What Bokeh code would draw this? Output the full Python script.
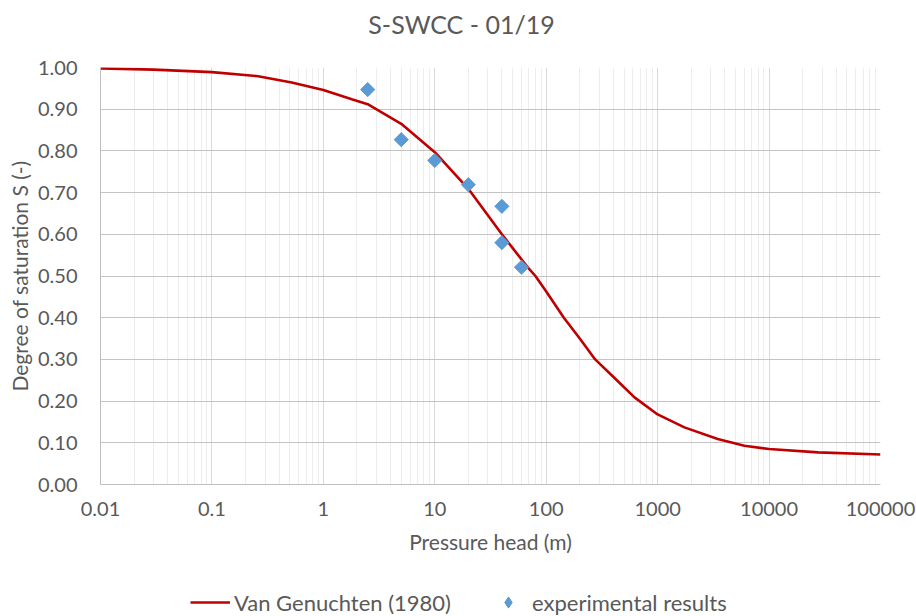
import numpy as np
from bokeh.plotting import figure
from bokeh.layouts import column
from bokeh.models import (FixedTicker, Legend, LegendItem, PrintfTickFormatter, Label)
from bokeh.embed import file_html
from bokeh.resources import INLINE

# ---- data ----
curve_x = [0.01, 0.03, 0.1, 0.26, 0.52, 1, 1.8, 2.5, 5, 10, 20, 40, 68.6, 80, 100,
           144, 200, 275, 408, 620, 1000, 1740, 3460, 6000, 10000, 27500, 100000]
curve_s = [0.998, 0.995, 0.989, 0.979, 0.964, 0.946, 0.924, 0.912, 0.865, 0.797,
           0.709, 0.600, 0.520, 0.500, 0.463, 0.400, 0.350, 0.300, 0.256, 0.209,
           0.168, 0.137, 0.109, 0.093, 0.085, 0.077, 0.072]

exp_x = [2.5, 5, 10, 20, 40, 40, 60]
exp_s = [0.947, 0.827, 0.777, 0.719, 0.667, 0.580, 0.521]

x_ticks = [0.01, 0.1, 1, 10, 100, 1000, 10000, 100000]
x_tick_labels = ["0.01", "0.1", "1", "10", "100", "1000", "10000", "100000"]
y_ticks = [0.0, 0.1, 0.2, 0.3, 0.4, 0.5, 0.6, 0.7, 0.8, 0.9, 1.0]

series_names = ["Van Genuchten (1980)", "experimental results"]
chart_title = "S-SWCC - 01/19"

FONT = "Lato"
TXT = "#595959"
RED = "#c00000"
BLUE = "#5b9bd5"


def strip(height, y_range):
    f = figure(width=916, height=height, x_range=(0, 1), y_range=y_range,
               x_axis_type=None, y_axis_type=None,
               output_backend="svg", toolbar_location=None,
               min_border_left=100, min_border_right=36,
               min_border_top=0, min_border_bottom=0)
    f.title = None
    f.outline_line_color = None
    f.xgrid.visible = False
    f.ygrid.visible = False
    return f


# ---- title strip ----
tf = strip(46, (0, 1))
tf.add_layout(Label(x=361, y=23, x_units="screen", y_units="screen",
                    text=chart_title, text_align="center",
                    text_baseline="middle", text_font=FONT,
                    text_font_size="25px", text_color=TXT))

# ---- main chart ----
p = figure(width=916, height=518, x_axis_type="log",
           x_range=(0.01, 100000), y_range=(0, 1),
           output_backend="svg", toolbar_location=None,
           min_border_left=100, min_border_right=36,
           min_border_top=21, min_border_bottom=80)
p.title = None
p.outline_line_color = None
p.background_fill_color = "white"
p.border_fill_color = "white"

minor = []
for d in x_ticks[:-1]:
    for k in range(2, 10):
        minor.append(d * k)
p.xaxis.ticker = FixedTicker(ticks=x_ticks, minor_ticks=minor)
p.xaxis.major_label_overrides = dict(zip(x_ticks, x_tick_labels))
p.yaxis.ticker = FixedTicker(ticks=y_ticks)
p.yaxis.formatter = PrintfTickFormatter(format="%.2f")

for ax in (p.xaxis, p.yaxis):
    ax.major_tick_line_color = None
    ax.minor_tick_line_color = None
    ax.axis_line_color = "#bfbfbf"
    ax.major_label_text_font = FONT
    ax.major_label_text_font_size = "20px"
    ax.major_label_text_color = TXT
    ax.axis_label_text_font = FONT
    ax.axis_label_text_font_size = "21px"
    ax.axis_label_text_font_style = "normal"
    ax.axis_label_text_color = TXT

p.xaxis.axis_label = "Pressure head (m)"
p.yaxis.axis_label = "Degree of saturation S (-)"
p.xaxis.major_label_standoff = 11
p.xaxis.axis_label_standoff = 10
p.yaxis.major_label_standoff = 17
p.yaxis.axis_label_standoff = 3

p.ygrid.grid_line_color = "#c4c4c4"
p.ygrid.grid_line_width = 1
p.xgrid.grid_line_color = "#d9d9d9"
p.xgrid.grid_line_width = 1
p.xgrid.minor_grid_line_color = "#ededed"
p.xgrid.minor_grid_line_width = 1

p.line(curve_x, curve_s, line_color=RED, line_width=2.6)
p.scatter(exp_x, exp_s, marker="square", angle=np.pi / 4, size=10,
          fill_color=BLUE, line_color=BLUE)

# ---- legend strip below the chart (its y range keeps the data out of view) ----
lg = strip(52, (5, 6))
r_line = lg.line(curve_x, curve_s, line_color=RED, line_width=2.6)
r_pts = lg.scatter(exp_x, exp_s, marker="diamond", size=12,
                   fill_color=BLUE, line_color=BLUE)

legend = Legend(items=[LegendItem(label=series_names[0], renderers=[r_line]),
                       LegendItem(label=series_names[1], renderers=[r_pts])],
                orientation="horizontal", location=(90, 0),
                label_text_font=FONT, label_text_font_size="22px",
                label_text_color=TXT, glyph_width=40, glyph_height=28,
                label_standoff=4, spacing=37, border_line_color=None,
                background_fill_alpha=0, margin=0, padding=0)
lg.add_layout(legend)

layout = column(tf, p, lg, spacing=0)
open("out.html", "w").write(file_html(layout, INLINE))
